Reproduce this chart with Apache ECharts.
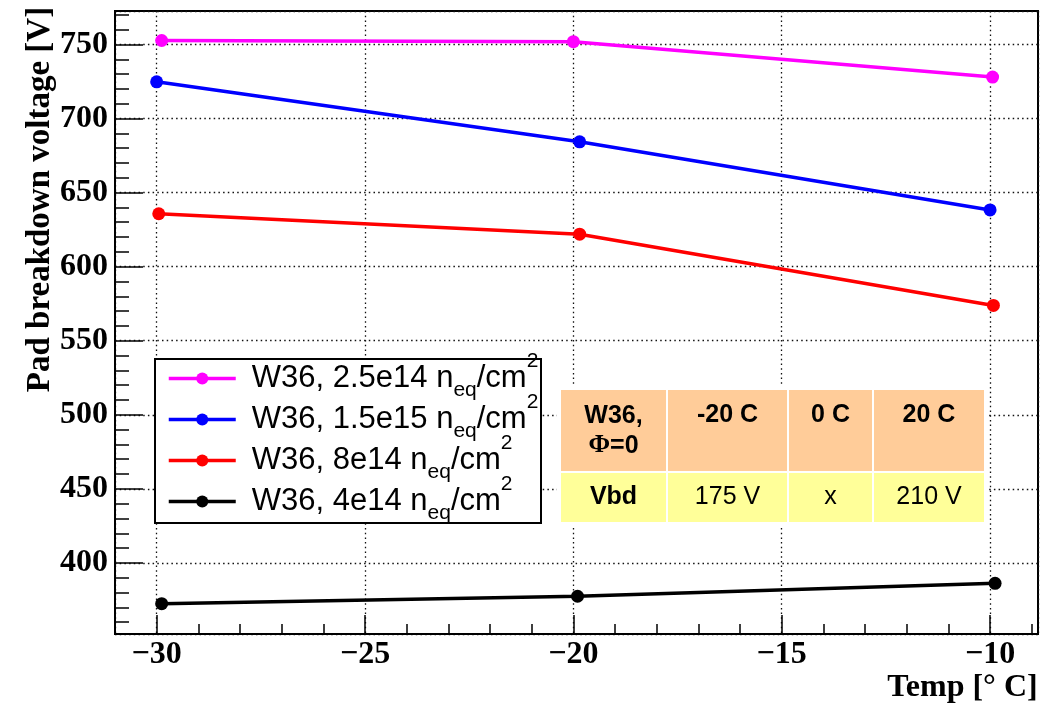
<!DOCTYPE html>
<html>
<head>
<meta charset="utf-8">
<script src="https://cdn.jsdelivr.net/npm/echarts@6/dist/echarts.min.js"></script>
<style>
html,body{margin:0;padding:0;background:#fff}
#chart{width:1040px;height:707px}
</style>
</head>
<body>
<div id="chart"></div>
<script>
// ---------- data ----------
const seriesNames = ['W36, 2.5e14', 'W36, 1.5e15', 'W36, 8e14', 'W36, 4e14'];
const tempPink  = [-29.88, -20.00, -9.94];
const voltPink  = [752.7, 751.9, 728.0];
const tempBlue  = [-30.00, -19.85, -10.00];
const voltBlue  = [724.8, 684.3, 638.3];
const tempRed   = [-29.95, -19.85, -9.92];
const voltRed   = [635.7, 621.9, 573.8];
const tempBlack = [-29.88, -19.90, -9.88];
const voltBlack = [372.5, 377.5, 386.2];

const tableHeader = ['W36,', '-20 C', '0 C', '20 C'];
const tableHeaderSub = 'Φ=0';
const tableRow = ['Vbd', '175 V', 'x', '210 V'];

// ---------- styles ----------
const seriesColors = ['#ff00ff', '#0000ff', '#ff0000', '#000000'];
const SERIF = 'Liberation Serif';
const SANS = 'Liberation Sans';

const seriesData = [
  [tempPink, voltPink],
  [tempBlue, voltBlue],
  [tempRed, voltRed],
  [tempBlack, voltBlack]
];

const series = seriesData.map((d, k) => ({
  type: 'line',
  name: seriesNames[k],
  data: d[0].map((t, i) => [t, d[1][i]]),
  symbol: 'circle',
  symbolSize: 13,
  lineStyle: { color: seriesColors[k], width: 3.5 },
  itemStyle: { color: seriesColors[k] },
  emphasis: { disabled: true },
  animation: false,
  z: 3
}));

// ---------- table (annotation) + legend frame ----------
const colEdges = [560, 667, 788, 873, 985];
const rowEdges = [390, 472, 522];
const headColor = '#ffcc99';
const rowColor = '#ffff99';
const ZT = 100;
const graphicEls = [];
// legend frame (legend entries drawn by the legend component above it)
graphicEls.push({ type: 'rect', z: 5, shape: { x: 155, y: 359, width: 386, height: 164 }, style: { fill: '#fff', stroke: '#000', lineWidth: 2 } });
graphicEls.push({ type: 'rect', z: ZT, shape: { x: 557, y: 387, width: 431, height: 138 }, style: { fill: '#fff' } });
for (let c = 0; c < 4; c++) {
  const x0 = colEdges[c] + 1, x1 = colEdges[c + 1] - 1;
  graphicEls.push({ type: 'rect', z: ZT + 1, shape: { x: x0, y: rowEdges[0], width: x1 - x0, height: rowEdges[1] - rowEdges[0] - 1 }, style: { fill: headColor } });
  graphicEls.push({ type: 'rect', z: ZT + 1, shape: { x: x0, y: rowEdges[1] + 1, width: x1 - x0, height: rowEdges[2] - rowEdges[1] - 1 }, style: { fill: rowColor } });
  const cx = (colEdges[c] + colEdges[c + 1]) / 2;
  if (c === 0) {
    graphicEls.push({ type: 'text', z: ZT + 2, style: {
      text: '{b|' + tableHeader[0] + '}\n{phi|' + tableHeaderSub.charAt(0) + '}{b|' + tableHeaderSub.slice(1) + '}',
      x: cx, y: 430.7, align: 'center', verticalAlign: 'middle', textAlign: 'center', textVerticalAlign: 'middle',
      rich: {
        b: { fontFamily: SANS, fontWeight: 'bold', fontSize: 25, lineHeight: 30, fill: '#000', color: '#000' },
        phi: { fontFamily: SERIF, fontWeight: 'bold', fontSize: 26, lineHeight: 30, fill: '#000', color: '#000' }
      }
    } });
  } else {
    graphicEls.push({ type: 'text', z: ZT + 2, style: {
      text: tableHeader[c], x: cx, y: 415.5, align: 'center', verticalAlign: 'middle', textAlign: 'center', textVerticalAlign: 'middle',
      font: 'bold 25px "Liberation Sans"', fill: '#000'
    } });
  }
  graphicEls.push({ type: 'text', z: ZT + 2, style: {
    text: tableRow[c], x: cx, y: 497, align: 'center', verticalAlign: 'middle', textAlign: 'center', textVerticalAlign: 'middle',
    font: (c === 0 ? 'bold ' : '') + '25px "Liberation Sans"', fill: '#000'
  } });
}

const axisFont = { fontFamily: SERIF, fontWeight: 'bold', fontSize: 32, color: '#000' };
const gridLine = { show: true, lineStyle: { color: '#111', width: 1.3, type: [1.5, 3.2] } };

const option = {
  backgroundColor: '#fff',
  animation: false,
  grid: {
    left: 115, top: 11, right: 2, bottom: 73,
    show: true, borderColor: '#000', borderWidth: 2, backgroundColor: 'transparent',
    containLabel: false, outerBoundsMode: 'none'
  },
  xAxis: {
    type: 'value', min: -31, max: -8.85, minInterval: 5, maxInterval: 5, splitNumber: 4,
    axisLine: { show: true, onZero: false, lineStyle: { color: '#000', width: 2 } },
    axisTick: { show: true, inside: true, length: 19, lineStyle: { color: '#000', width: 1.5 } },
    minorTick: { show: true, splitNumber: 5, length: 10, lineStyle: { color: '#000', width: 1.5 } },
    splitLine: gridLine,
    axisLabel: Object.assign({
      margin: 5,
      formatter: v => (Math.abs(v % 5) < 1e-9 ? (v < 0 ? '\u2212' + Math.abs(v) : String(v)) : '')
    }, axisFont),
    name: 'Temp [° C]', nameLocation: 'middle', nameGap: 38, nameMoveOverlap: false,
    nameTextStyle: Object.assign({ padding: [0, 0, 0, 772] }, axisFont)
  },
  yAxis: {
    type: 'value', min: 352, max: 772.6, minInterval: 50, maxInterval: 50, splitNumber: 8,
    axisLine: { show: true, onZero: false, lineStyle: { color: '#000', width: 2 } },
    axisTick: { show: true, inside: true, length: 28, lineStyle: { color: '#000', width: 1.5 } },
    minorTick: { show: true, splitNumber: 5, length: 14, lineStyle: { color: '#000', width: 1.5 } },
    splitLine: gridLine,
    axisLabel: Object.assign({
      margin: 7,
      formatter: v => (Math.abs(v % 50) < 1e-9 ? String(v) : '')
    }, axisFont),
    name: 'Pad breakdown voltage [V]', nameLocation: 'middle', nameGap: 58, nameRotate: 90, nameMoveOverlap: false,
    nameTextStyle: Object.assign({}, axisFont, { fontSize: 33, padding: [0, 0, 0, 246] })
  },
  legend: {
    orient: 'vertical', left: 155, top: 351,
    padding: [0, 3, 0, 12], itemGap: -14, itemWidth: 67, itemHeight: 15,
    backgroundColor: 'transparent', borderWidth: 0,
    selectedMode: false, z: 10,
    lineStyle: { width: 3.5 },
    formatter: n => '{a|' + n + ' n}{sub|eq}{m|/cm}{sup|2}',
    textStyle: {
      rich: {
        a: { fontFamily: SANS, fontSize: 31, lineHeight: 40, color: '#000', padding: [0, 0, 0, 11] },
        m: { fontFamily: SANS, fontSize: 31, lineHeight: 40, color: '#000' },
        sub: { fontFamily: SANS, fontSize: 21, lineHeight: 40, color: '#000', padding: [24, 0, 0, 0] },
        sup: { fontFamily: SANS, fontSize: 21, lineHeight: 40, color: '#000', padding: [0, 0, 34, 0] }
      }
    }
  },
  graphic: { elements: graphicEls },
  series: series
};

const chart = echarts.init(document.getElementById('chart'), null, { renderer: 'canvas' });
chart.setOption(option);
</script>
</body>
</html>
